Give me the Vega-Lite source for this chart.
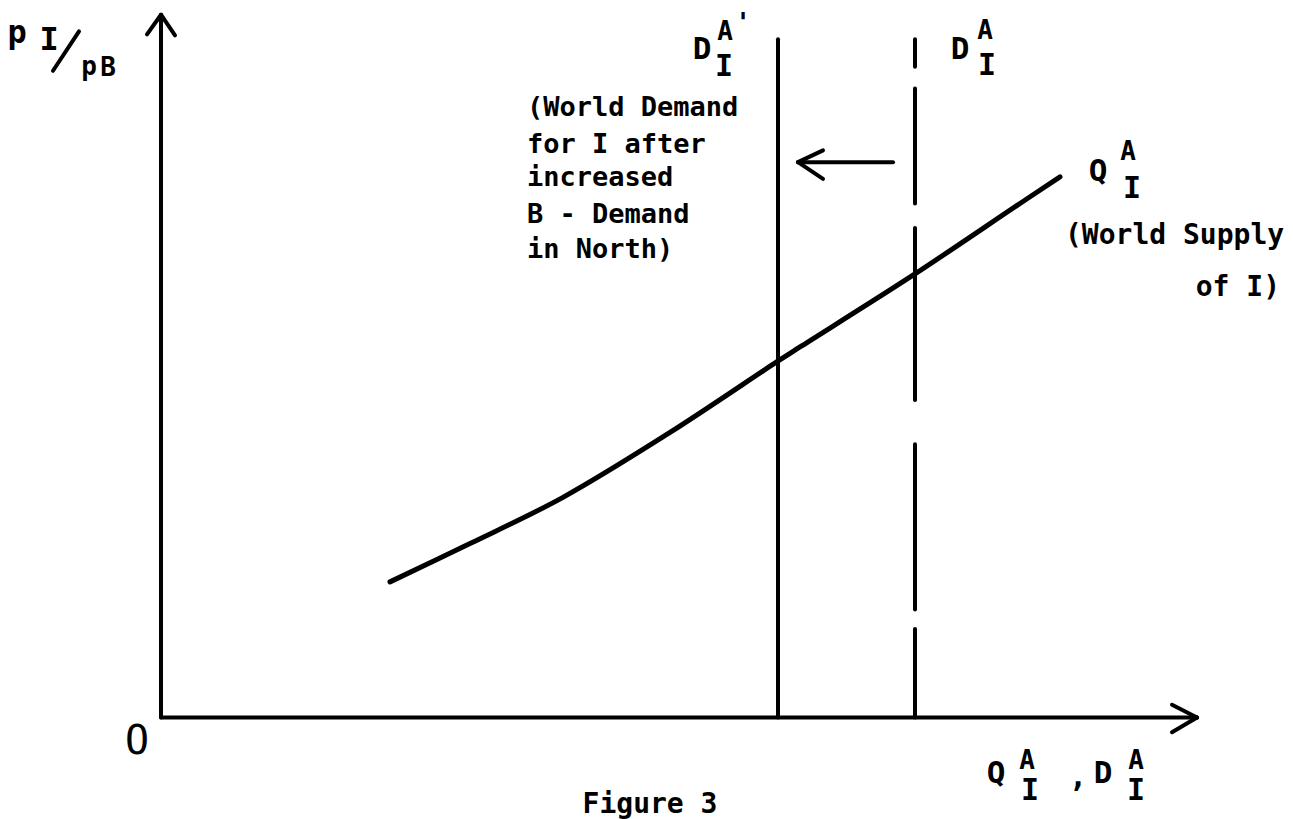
{
  "$schema": "https://vega.github.io/schema/vega-lite/v6.json",
  "width": 1293,
  "height": 819,
  "padding": 0,
  "autosize": {"type": "fit", "contains": "padding"},
  "background": "white",
  "config": {"view": {"stroke": null}},
  "datasets": {
    "segs": [
      {"part": "price axis", "q": 0, "p": 0, "q2": 0, "p2": 715},
      {"part": "price arrow", "q": 0, "p": 715, "q2": -14, "p2": 695},
      {"part": "price arrow", "q": 0, "p": 715, "q2": 14, "p2": 694},
      {"part": "quantity axis", "q": 0, "p": 0, "q2": 1036, "p2": 0},
      {"part": "quantity arrow", "q": 1036, "p": 0, "q2": 1011, "p2": 13},
      {"part": "quantity arrow", "q": 1036, "p": 0, "q2": 1011, "p2": -15},
      {"part": "demand after", "q": 617, "p": 0, "q2": 617, "p2": 690},
      {"part": "demand before", "q": 754, "p": 0, "q2": 754, "p2": 90},
      {"part": "demand before", "q": 754, "p": 110, "q2": 754, "p2": 278},
      {"part": "demand before", "q": 754, "p": 323, "q2": 754, "p2": 498},
      {"part": "demand before", "q": 754, "p": 523, "q2": 754, "p2": 640},
      {"part": "demand before", "q": 754, "p": 662, "q2": 754, "p2": 690},
      {"part": "shift", "q": 732, "p": 565, "q2": 637, "p2": 565},
      {"part": "shift", "q": 637, "p": 565, "q2": 662, "p2": 577},
      {"part": "shift", "q": 637, "p": 565, "q2": 662, "p2": 548},
      {"part": "slash", "q": -108, "p": 658, "q2": -82, "p2": 698}
    ],
    "supply": [
      {"q": 229, "p": 138},
      {"q": 309, "p": 177},
      {"q": 402, "p": 224},
      {"q": 509, "p": 290},
      {"q": 616, "p": 362},
      {"q": 639, "p": 377},
      {"q": 752, "p": 450},
      {"q": 859, "p": 523},
      {"q": 899, "p": 550}
    ],
    "labels": [
      {"kind": "big", "q": 541, "p": 679, "t": "D"},
      {"kind": "big", "q": 799, "p": 679, "t": "D"},
      {"kind": "big", "q": 937, "p": 555, "t": "Q"},
      {"kind": "big", "q": 835, "p": -57, "t": "Q"},
      {"kind": "big", "q": 942, "p": -57, "t": "D"},
      {"kind": "big", "q": 917, "p": -62, "t": ","},
      {"kind": "sup", "q": 564, "p": 697, "t": "A"},
      {"kind": "sup", "q": 582, "p": 706, "t": "'"},
      {"kind": "sup", "q": 824, "p": 698, "t": "A"},
      {"kind": "sup", "q": 967, "p": 575, "t": "A"},
      {"kind": "sup", "q": 866, "p": -44, "t": "A"},
      {"kind": "sup", "q": 975, "p": -44, "t": "A"},
      {"kind": "sub", "q": 563, "p": 662, "t": "I"},
      {"kind": "sub", "q": 826, "p": 663, "t": "I"},
      {"kind": "sub", "q": 971, "p": 538, "t": "I"},
      {"kind": "sub", "q": 869, "p": -75, "t": "I"},
      {"kind": "sub", "q": 975, "p": -75, "t": "I"},
      {"kind": "price", "q": -144, "p": 696, "t": "p"},
      {"kind": "price", "q": -112, "p": 689, "t": "I"},
      {"kind": "pricesub", "q": -72, "p": 662, "t": "p"},
      {"kind": "pricesub", "q": -53, "p": 661, "t": "B"},
      {"kind": "origin", "q": -24, "p": -25, "t": "O"},
      {"kind": "demandnote", "q": 366, "p": 620, "t": "(World Demand"},
      {"kind": "demandnote", "q": 366, "p": 582, "t": "for I after"},
      {"kind": "demandnote", "q": 366, "p": 549, "t": "increased"},
      {"kind": "demandnote", "q": 366, "p": 511, "t": "B - Demand"},
      {"kind": "demandnote", "q": 366, "p": 476, "t": "in North)"},
      {"kind": "supplynote", "q": 904, "p": 490, "t": "(World Supply"},
      {"kind": "supplynote2", "q": 1119, "p": 437, "t": "of I)"},
      {"kind": "caption", "q": 489, "p": -75, "t": "Figure 3"}
    ]
  },
  "layer": [
    {
      "data": {"name": "segs"},
      "mark": {"type": "rule", "strokeWidth": 4, "strokeCap": "round", "color": "black"},
      "encoding": {
        "x": {"field": "q", "type": "quantitative", "axis": null, "scale": {"domain": [-161, 1132], "nice": false, "zero": false}},
        "y": {"field": "p", "type": "quantitative", "axis": null, "scale": {"domain": [-89, 730], "nice": false, "zero": false}},
        "x2": {"field": "q2"},
        "y2": {"field": "p2"}
      }
    },
    {
      "data": {"name": "supply"},
      "mark": {"type": "line", "strokeWidth": 5, "strokeCap": "round", "color": "black", "interpolate": "catmull-rom"},
      "encoding": {
        "x": {"field": "q", "type": "quantitative", "axis": null, "scale": {"domain": [-161, 1132], "nice": false, "zero": false}},
        "y": {"field": "p", "type": "quantitative", "axis": null, "scale": {"domain": [-89, 730], "nice": false, "zero": false}}
      }
    },
    {
      "data": {"name": "labels"},
      "transform": [{"filter": "datum.kind === 'big'"}],
      "mark": {"type": "text", "font": "DejaVu Sans Mono", "fontWeight": "bold", "fontSize": 31, "align": "center", "baseline": "middle", "color": "black"},
      "encoding": {
        "x": {"field": "q", "type": "quantitative"},
        "y": {"field": "p", "type": "quantitative"},
        "text": {"field": "t"}
      }
    },
    {
      "data": {"name": "labels"},
      "transform": [{"filter": "datum.kind === 'sup'"}],
      "mark": {"type": "text", "font": "DejaVu Sans Mono", "fontWeight": "bold", "fontSize": 26, "align": "center", "baseline": "middle", "color": "black"},
      "encoding": {
        "x": {"field": "q", "type": "quantitative"},
        "y": {"field": "p", "type": "quantitative"},
        "text": {"field": "t"}
      }
    },
    {
      "data": {"name": "labels"},
      "transform": [{"filter": "datum.kind === 'sub'"}],
      "mark": {"type": "text", "font": "DejaVu Sans Mono", "fontWeight": "bold", "fontSize": 30, "align": "center", "baseline": "middle", "color": "black"},
      "encoding": {
        "x": {"field": "q", "type": "quantitative"},
        "y": {"field": "p", "type": "quantitative"},
        "text": {"field": "t"}
      }
    },
    {
      "data": {"name": "labels"},
      "transform": [{"filter": "datum.kind === 'price'"}],
      "mark": {"type": "text", "font": "DejaVu Sans Mono", "fontWeight": "bold", "fontSize": 32, "align": "center", "baseline": "middle", "color": "black"},
      "encoding": {
        "x": {"field": "q", "type": "quantitative"},
        "y": {"field": "p", "type": "quantitative"},
        "text": {"field": "t"}
      }
    },
    {
      "data": {"name": "labels"},
      "transform": [{"filter": "datum.kind === 'pricesub'"}],
      "mark": {"type": "text", "font": "DejaVu Sans Mono", "fontWeight": "bold", "fontSize": 26, "align": "center", "baseline": "middle", "color": "black"},
      "encoding": {
        "x": {"field": "q", "type": "quantitative"},
        "y": {"field": "p", "type": "quantitative"},
        "text": {"field": "t"}
      }
    },
    {
      "data": {"name": "labels"},
      "transform": [{"filter": "datum.kind === 'origin'"}],
      "mark": {"type": "text", "font": "DejaVu Sans Mono", "fontSize": 40, "align": "center", "baseline": "middle", "color": "black"},
      "encoding": {
        "x": {"field": "q", "type": "quantitative"},
        "y": {"field": "p", "type": "quantitative"},
        "text": {"field": "t"}
      }
    },
    {
      "data": {"name": "labels"},
      "transform": [{"filter": "datum.kind === 'demandnote'"}],
      "mark": {"type": "text", "font": "DejaVu Sans Mono", "fontWeight": "bold", "fontSize": 27, "align": "left", "baseline": "middle", "color": "black"},
      "encoding": {
        "x": {"field": "q", "type": "quantitative"},
        "y": {"field": "p", "type": "quantitative"},
        "text": {"field": "t"}
      }
    },
    {
      "data": {"name": "labels"},
      "transform": [{"filter": "datum.kind === 'supplynote'"}],
      "mark": {"type": "text", "font": "DejaVu Sans Mono", "fontWeight": "bold", "fontSize": 28, "align": "left", "baseline": "middle", "color": "black"},
      "encoding": {
        "x": {"field": "q", "type": "quantitative"},
        "y": {"field": "p", "type": "quantitative"},
        "text": {"field": "t"}
      }
    },
    {
      "data": {"name": "labels"},
      "transform": [{"filter": "datum.kind === 'supplynote2'"}],
      "mark": {"type": "text", "font": "DejaVu Sans Mono", "fontWeight": "bold", "fontSize": 28, "align": "right", "baseline": "middle", "color": "black"},
      "encoding": {
        "x": {"field": "q", "type": "quantitative"},
        "y": {"field": "p", "type": "quantitative"},
        "text": {"field": "t"}
      }
    },
    {
      "data": {"name": "labels"},
      "transform": [{"filter": "datum.kind === 'caption'"}],
      "mark": {"type": "text", "font": "DejaVu Sans Mono", "fontWeight": "bold", "fontSize": 28, "align": "center", "baseline": "top", "color": "black"},
      "encoding": {
        "x": {"field": "q", "type": "quantitative"},
        "y": {"field": "p", "type": "quantitative"},
        "text": {"field": "t"}
      }
    }
  ]
}
